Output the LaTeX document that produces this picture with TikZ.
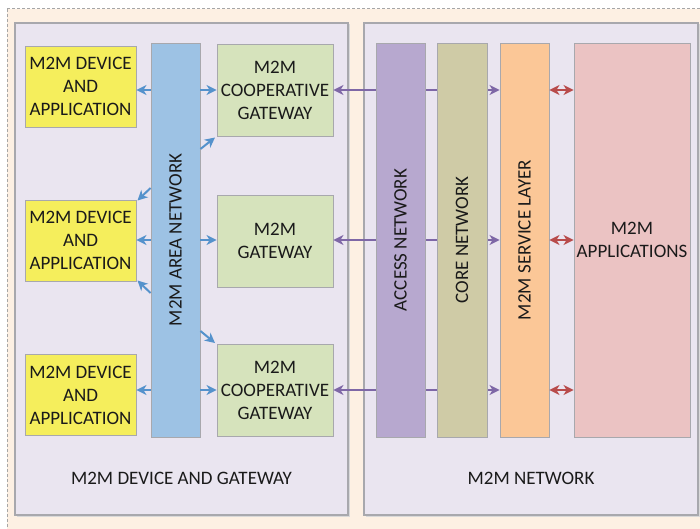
\documentclass[tikz,border=0pt]{standalone}
\usepackage{fontspec}
\setmainfont{Carlito}
\usetikzlibrary{arrows.meta}

\definecolor{peach}{HTML}{FDF0E3}
\definecolor{panelfill}{HTML}{EAE5F0}
\definecolor{panelline}{HTML}{A8A8AD}
\definecolor{devfill}{HTML}{F5EE5C}
\definecolor{areafill}{HTML}{9DC2E4}
\definecolor{gwfill}{HTML}{D6E3BC}
\definecolor{accfill}{HTML}{B7A8CF}
\definecolor{corefill}{HTML}{CFCBA6}
\definecolor{svcfill}{HTML}{FBC797}
\definecolor{appfill}{HTML}{EBC3C3}
\definecolor{blueline}{HTML}{5592CC}
\definecolor{purpline}{HTML}{7E67A6}
\definecolor{redline}{HTML}{B84B4B}
\definecolor{ink}{HTML}{1A1A1A}

\tikzset{
  box/.style={draw=panelline, line width=0.9pt, inner sep=0pt, align=center,
    text=ink},
  devbox/.style={box, fill=devfill, minimum width=111pt, minimum height=81pt},
  gwbox/.style={box, fill=gwfill, minimum width=116pt, minimum height=92pt},
  bar/.style={box, minimum width=49pt, minimum height=394pt},
  barlabel/.style={rotate=90, text=ink},
  panel/.style={fill=panelfill, draw=panelline, line width=1.2pt},
  blarrow/.style={draw=blueline, line width=2pt,
    -{Stealth[length=10pt,width=10pt,inset=3pt]}},
  purarrow/.style={draw=purpline, line width=2pt,
    {Stealth[length=10pt,width=10pt,inset=3pt]}-{Stealth[length=10pt,width=10pt,inset=3pt]}},
  redarrow/.style={draw=redline, line width=2pt,
    {Stealth[length=10pt,width=10pt,inset=3pt]}-{Stealth[length=10pt,width=10pt,inset=3pt]}},
}

\begin{document}
\begin{tikzpicture}[x=1pt, y=-1pt, font=\fontsize{19}{23}\selectfont]
  \clip (0,0) rectangle (700,529);
  \fill[white] (0,0) rectangle (700,529);

  % outer dashed frame
  \draw[fill=peach, draw=gray!70, line width=1pt,
    dash pattern=on 3pt off 2pt] (7,9) rectangle (720,545);

  % the two panels, with a soft shadow
  \fill[gray!30] (16.5,24.5) rectangle (349.5,516.5);
  \fill[gray!30] (365.5,24.5) rectangle (699.5,516.5);
  \draw[panel] (15,23) rectangle (348,515);
  \draw[panel] (364,23) rectangle (698,515);

  \node[text=ink] (lbl1) at (181.5,478) {M2M DEVICE AND GATEWAY};
  \node[text=ink] (lbl2) at (531,478) {M2M NETWORK};

  % devices
  \node[devbox] (d1) at (80.5,86.5) {M2M DEVICE\\AND\\APPLICATION};
  \node[devbox] (d2) at (80.5,240.5) {M2M DEVICE\\AND\\APPLICATION};
  \node[devbox] (d3) at (80.5,395) {M2M DEVICE\\AND\\APPLICATION};

  % gateways
  \node[gwbox] (g1) at (275,90) {M2M\\COOPERATIVE\\GATEWAY};
  \node[gwbox] (g2) at (275,241) {M2M\\GATEWAY};
  \node[gwbox] (g3) at (275,390) {M2M\\COOPERATIVE\\GATEWAY};

  % service layer and applications (placed first so the links can use them)
  \node[bar, fill=svcfill] (svc) at (524.5,240) {};
  \node[barlabel] at (svc.center) {M2M SERVICE LAYER};
  \node[box, fill=appfill, minimum width=116pt, minimum height=394pt]
    (app) at (632,240) {M2M\\APPLICATIONS};

  % gateway <-> service layer links, running behind access and core bars
  \draw[purarrow] (g1.east) -- (g1.east -| svc.west);
  \draw[purarrow] (g2.east |- 0,240) -- (svc.west |- 0,240);
  \draw[purarrow] (g3.east) -- (g3.east -| svc.west);

  % access and core network bars
  \node[bar, fill=accfill] (acc) at (400.5,240) {};
  \node[barlabel] at (acc.center) {ACCESS NETWORK};
  \node[bar, fill=corefill, minimum width=50pt] (core) at (462,240) {};
  \node[barlabel] at (core.center) {CORE NETWORK};

  % service layer <-> applications
  \draw[redarrow] (svc.east |- g1.east) -- (app.west |- g1.east);
  \draw[redarrow] (svc.east |- 0,240) -- (app.west |- 0,240);
  \draw[redarrow] (svc.east |- g3.east) -- (app.west |- g3.east);

  % area network bar
  \node[bar, fill=areafill] (an) at (175.5,240) {};
  \node[barlabel] at (an.center) {M2M AREA NETWORK};

  % area network links
  \draw[blarrow] (an.west |- g1.east) -- (d1.east |- g1.east);
  \draw[blarrow] (an.east |- g1.west) -- (g1.west);
  \draw[blarrow] (an.west |- 0,240) -- (d2.east |- 0,240);
  \draw[blarrow] (an.east |- 0,240) -- (g2.west |- 0,240);
  \draw[blarrow] (an.west |- g3.west) -- (d3.east |- g3.west);
  \draw[blarrow] (an.east |- g3.west) -- (g3.west);

  \coordinate (s1) at (an.east |- 0,149);
  \coordinate (e1) at (215,137.5);
  \coordinate (s2) at (an.west |- 0,188);
  \coordinate (e2) at (137.5,200.5);
  \coordinate (s3) at (an.west |- 0,293);
  \coordinate (e3) at (137.5,280.5);
  \coordinate (s4) at (an.east |- 0,331);
  \coordinate (e4) at (215,343);
  \draw[blarrow] (s1) -- (e1);
  \draw[blarrow] (s2) -- (e2);
  \draw[blarrow] (s3) -- (e3);
  \draw[blarrow] (s4) -- (e4);
\end{tikzpicture}
\end{document}
